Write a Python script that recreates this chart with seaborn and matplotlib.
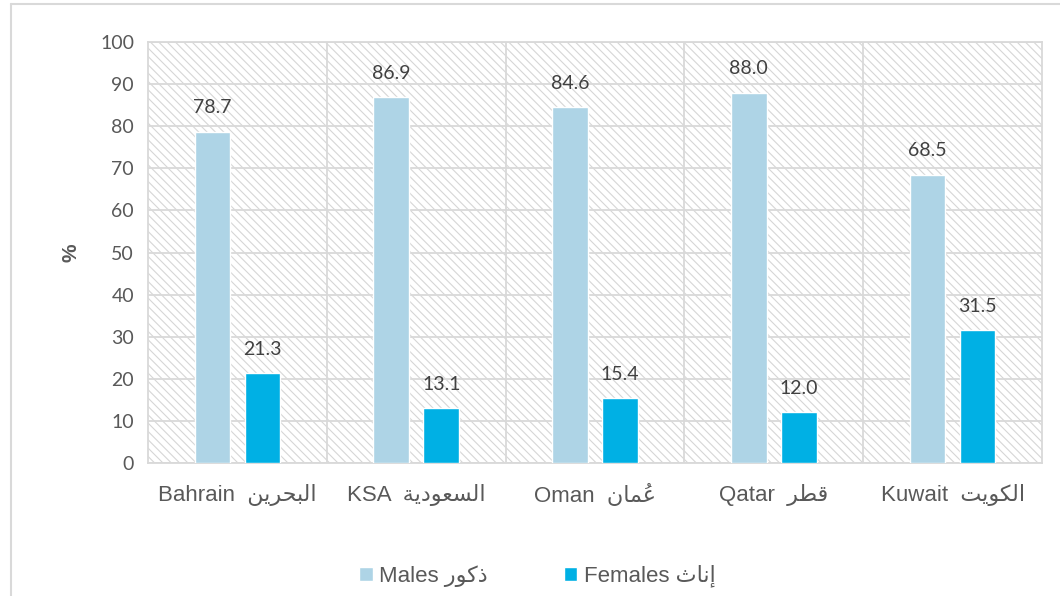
import pandas as pd
import seaborn as sns
import matplotlib.pyplot as plt
from matplotlib.patches import Rectangle
from matplotlib.lines import Line2D

# Data
countries_en = ['Bahrain', 'KSA', 'Oman', 'Qatar', 'Kuwait']
countries_ar = ['البحرين', 'السعودية', 'عُمان', 'قطر', 'الكويت']
males = [78.7, 86.9, 84.6, 88.0, 68.5]
females = [21.3, 13.1, 15.4, 12.0, 31.5]
series_en = ['Males', 'Females']
series_ar = ['ذكور', 'إناث']
y_ticks = [0, 10, 20, 30, 40, 50, 60, 70, 80, 90, 100]

# matplotlib has no Arabic shaping, so map letters to their presentation
# forms (isolated, final, initial, medial) and lay them out right-to-left
forms = {
    'ا': ('\uFE8D', '\uFE8E', None, None),
    'إ': ('\uFE87', '\uFE88', None, None),
    'ب': ('\uFE8F', '\uFE90', '\uFE91', '\uFE92'),
    'ت': ('\uFE95', '\uFE96', '\uFE97', '\uFE98'),
    'ث': ('\uFE99', '\uFE9A', '\uFE9B', '\uFE9C'),
    'ح': ('\uFEA1', '\uFEA2', '\uFEA3', '\uFEA4'),
    'د': ('\uFEA9', '\uFEAA', None, None),
    'ذ': ('\uFEAB', '\uFEAC', None, None),
    'ر': ('\uFEAD', '\uFEAE', None, None),
    'س': ('\uFEB1', '\uFEB2', '\uFEB3', '\uFEB4'),
    'ط': ('\uFEC1', '\uFEC2', '\uFEC3', '\uFEC4'),
    'ع': ('\uFEC9', '\uFECA', '\uFECB', '\uFECC'),
    'ق': ('\uFED5', '\uFED6', '\uFED7', '\uFED8'),
    'ك': ('\uFED9', '\uFEDA', '\uFEDB', '\uFEDC'),
    'ل': ('\uFEDD', '\uFEDE', '\uFEDF', '\uFEE0'),
    'م': ('\uFEE1', '\uFEE2', '\uFEE3', '\uFEE4'),
    'ن': ('\uFEE5', '\uFEE6', '\uFEE7', '\uFEE8'),
    'ة': ('\uFE93', '\uFE94', None, None),
    'و': ('\uFEED', '\uFEEE', None, None),
    'ي': ('\uFEF1', '\uFEF2', '\uFEF3', '\uFEF4'),
}


def shape(word):
    # split into (base, marks) clusters
    clusters = []
    for ch in word:
        if ch in forms or not clusters:
            clusters.append([ch, ''])
        else:
            clusters[-1][1] += ch
    out = []
    for i, (ch, marks) in enumerate(clusters):
        iso, fin, ini, med = forms[ch]
        prev_joins = i > 0 and forms[clusters[i - 1][0]][2] is not None
        next_exists = i < len(clusters) - 1
        if prev_joins and next_exists and med:
            g = med
        elif prev_joins:
            g = fin
        elif next_exists and ini:
            g = ini
        else:
            g = iso
        # DejaVu marks sit over the glyph that follows them
        out.append(marks + g)
    return ''.join(reversed(out))


df = pd.DataFrame({
    'country': countries_en * 2,
    'sex': [series_en[0]] * len(males) + [series_en[1]] * len(females),
    'value': males + females,
})

sns.set_style('white')
plt.rcParams['font.family'] = ['Liberation Sans', 'DejaVu Sans']
plt.rcParams['hatch.color'] = '#d6d6d6'
plt.rcParams['hatch.linewidth'] = 0.8

grid_c = '#d9d9d9'
text_c = '#595959'
num_font = ['Lato', 'DejaVu Sans']
colors = ['#aed4e6', '#00b0e4']

fig = plt.figure(figsize=(10.6, 5.96), dpi=100)
ax = fig.add_axes([148 / 1060, 1 - 463 / 596, (1042 - 148) / 1060, (463 - 42) / 596])

# hatched plot area
ax.add_patch(Rectangle((0, 0), 1, 1, transform=ax.transAxes, facecolor='white',
                       edgecolor='#d6d6d6', linewidth=0, hatch='\\\\\\\\', zorder=0))

sns.barplot(data=df, x='country', y='value', hue='sex', palette=colors,
            width=0.56, gap=0.29, saturation=1, ax=ax, zorder=3, legend=False)

for cont in ax.containers:
    ax.bar_label(cont, fmt='%.1f', padding=11, fontsize=14, color='#404040',
                 family=num_font)

ax.set_ylim(0, 100)
ax.set_xlim(-0.5, len(countries_en) - 0.5)
ax.set_yticks(y_ticks)
ax.set_yticklabels([str(t) for t in y_ticks], family=num_font)
for t in y_ticks:
    ax.axhline(t, color=grid_c, lw=1.3, zorder=1)
for i in range(len(countries_en) - 1):
    ax.axvline(i + 0.5, color=grid_c, lw=1.3, zorder=1)

ax.set_xticks(range(len(countries_en)))
ax.set_xticklabels([f'{en}  {shape(ar)}' for en, ar in zip(countries_en, countries_ar)])
ax.tick_params(axis='x', length=0, pad=15, labelsize=16, labelcolor=text_c)
ax.tick_params(axis='y', length=0, pad=10, labelsize=14, labelcolor=text_c)
ax.set_xlabel('')
ax.set_ylabel('%', fontsize=15, color=text_c, fontweight='bold', labelpad=14)
for s in ax.spines.values():
    s.set_color(grid_c)
    s.set_linewidth(1.3)

handles = [Rectangle((0, 0), 1, 1, facecolor=c) for c in colors]
labels = [f'{en} {shape(ar)}' for en, ar in zip(series_en, series_ar)]
fig.legend(handles, labels, loc='center', bbox_to_anchor=(0.507, 1 - 576 / 596),
           ncol=2, frameon=False, fontsize=16, labelcolor=text_c,
           handlelength=0.6, handleheight=0.6, handletextpad=0.3, columnspacing=3.4)

# outer chart border
fig.add_artist(Line2D([11 / 1060, 11 / 1060], [0, 1 - 4 / 596], color=grid_c, lw=1.5))
fig.add_artist(Line2D([11 / 1060, 1], [1 - 4 / 596, 1 - 4 / 596], color=grid_c, lw=1.5))

fig.savefig('out.png', dpi=100)
